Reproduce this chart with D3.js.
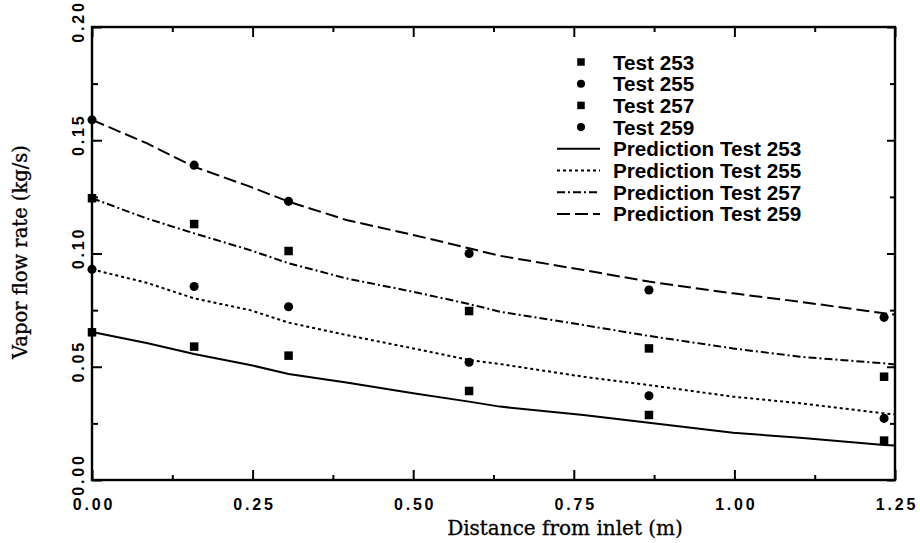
<!DOCTYPE html>
<html>
<head>
<meta charset="utf-8">
<script src="https://cdn.jsdelivr.net/npm/d3@7"></script>
<style>
  body { margin: 0; background: #fff; }
  .tick text { font-family: "Liberation Sans", Arial, sans-serif; font-weight: bold; font-size: 16px; letter-spacing: 2.8px; fill: #000; }
</style>
</head>
<body>
<div id="chart"></div>
<script>
const width = 920;
const height = 543;
const margin = { top: 27, right: 25, bottom: 63, left: 92 };
const innerW = width - margin.left - margin.right;
const innerH = height - margin.top - margin.bottom;

// measured points
const testX = [0, 0.159, 0.306, 0.587, 0.867, 1.233];
const test253 = [0.0652, 0.0589, 0.0549, 0.0393, 0.0287, 0.0174];
const test255 = [0.093, 0.0854, 0.0765, 0.052, 0.0372, 0.0272];
const test257 = [0.1244, 0.113, 0.1011, 0.0746, 0.0581, 0.0456];
const test259 = [0.159, 0.139, 0.123, 0.100, 0.0839, 0.0718];

// predictions
const predX = [0, 0.085, 0.159, 0.246, 0.306, 0.396, 0.5, 0.587, 0.635, 0.765, 0.867, 0.998, 1.102, 1.233, 1.25];
const pred253 = [0.0653, 0.0605, 0.0556, 0.0508, 0.0468, 0.043, 0.0383, 0.0346, 0.0324, 0.0287, 0.0253, 0.0209, 0.0186, 0.0155, 0.0152];
const pred255 = [0.093, 0.0871, 0.0802, 0.075, 0.0695, 0.064, 0.0581, 0.053, 0.0512, 0.0456, 0.0419, 0.0368, 0.0339, 0.0294, 0.029];
const pred257 = [0.1244, 0.1155, 0.1089, 0.1015, 0.0957, 0.089, 0.0831, 0.0777, 0.0743, 0.0684, 0.0636, 0.0581, 0.0544, 0.0515, 0.051];
const pred259 = [0.159, 0.1487, 0.1383, 0.1295, 0.1229, 0.1148, 0.1082, 0.1023, 0.099, 0.0927, 0.0876, 0.0824, 0.0787, 0.0736, 0.073];

const xMajor = [0, 0.25, 0.5, 0.75, 1.0, 1.25];
const xMinor = [0.125, 0.375, 0.625, 0.875, 1.125];
const yMajor = [0, 0.05, 0.10, 0.15, 0.20];
const yMinor = [0.025, 0.075, 0.125, 0.175];

const tests = [
    { name: "Test 253", values: test253, shape: "square" },
    { name: "Test 255", values: test255, shape: "circle" },
    { name: "Test 257", values: test257, shape: "square" },
    { name: "Test 259", values: test259, shape: "circle" }
];
const preds = [
    { name: "Prediction Test 253", values: pred253, dash: null },
    { name: "Prediction Test 255", values: pred255, dash: "3,3" },
    { name: "Prediction Test 257", values: pred257, dash: "8,3,2,3" },
    { name: "Prediction Test 259", values: pred259, dash: "13,5" }
];

const svg = d3.select("#chart")
    .append("svg")
    .attr("width", width)
    .attr("height", height);

const g = svg.append("g")
    .attr("transform", `translate(${margin.left}, ${margin.top})`);

const xScale = d3.scaleLinear().domain([0, 1.25]).range([0, innerW]);
const yScale = d3.scaleLinear().domain([0, 0.2]).range([innerH, 0]);

// axes, ticks pointing inward on all four sides
function addAxis(axis, transform, labels) {
    const a = g.append("g").attr("transform", transform).call(axis);
    a.select(".domain").remove();
    a.selectAll(".tick line").attr("stroke", "#000").attr("stroke-width", 2);
    if (!labels) a.selectAll(".tick text").remove();
    return a;
}

const xAx = addAxis(d3.axisBottom(xScale).tickValues(xMajor).tickSize(-10).tickPadding(19).tickFormat(d3.format(".2f")),
    `translate(0, ${innerH})`, true);
addAxis(d3.axisBottom(xScale).tickValues(xMinor).tickSize(-5), `translate(0, ${innerH})`, false);
addAxis(d3.axisTop(xScale).tickValues(xMajor).tickSize(-10), "translate(0, 0)", false);
addAxis(d3.axisTop(xScale).tickValues(xMinor).tickSize(-5), "translate(0, 0)", false);

// letter-spacing adds a trailing gap, nudge labels back to centre
xAx.selectAll(".tick text").attr("dx", "1.4px");

const yAx = addAxis(d3.axisLeft(yScale).tickValues(yMajor).tickSize(-10).tickFormat(d3.format(".2f")),
    "translate(0, 0)", true);
addAxis(d3.axisLeft(yScale).tickValues(yMinor).tickSize(-6), "translate(0, 0)", false);
addAxis(d3.axisRight(yScale).tickValues(yMajor).tickSize(-8), `translate(${innerW}, 0)`, false);
addAxis(d3.axisRight(yScale).tickValues(yMinor).tickSize(-5), `translate(${innerW}, 0)`, false);

// rotate y tick labels (sit a little above their ticks, as in the original)
yAx.selectAll(".tick text")
    .attr("x", null)
    .attr("dy", null)
    .attr("dx", "6px")
    .attr("text-anchor", "middle")
    .attr("transform", "translate(-8, 0) rotate(-90)");

// frame
g.append("rect")
    .attr("width", innerW)
    .attr("height", innerH)
    .attr("fill", "none")
    .attr("stroke", "#000")
    .attr("stroke-width", 2.4);

// prediction curves
const line = d3.line()
    .x((d, i) => xScale(predX[i]))
    .y(d => yScale(d));

g.selectAll(".pred")
    .data(preds)
    .enter()
    .append("path")
    .attr("class", "pred")
    .attr("d", d => line(d.values))
    .attr("fill", "none")
    .attr("stroke", "#000")
    .attr("stroke-width", 2)
    .attr("stroke-dasharray", d => d.dash);

// test points
function drawMarker(sel, shape, size) {
    if (shape === "square") {
        sel.append("rect")
            .attr("x", -size / 2)
            .attr("y", -size / 2)
            .attr("width", size)
            .attr("height", size)
            .attr("fill", "#000");
    } else {
        sel.append("circle")
            .attr("r", size / 2 + 0.3)
            .attr("fill", "#000");
    }
}

tests.forEach(t => {
    t.values.forEach((v, i) => {
        const m = g.append("g")
            .attr("transform", `translate(${xScale(testX[i])}, ${yScale(v)})`);
        drawMarker(m, t.shape, 8.5);
    });
});

// legend
const legendFont = "Liberation Sans, Arial, sans-serif";
const legend = svg.append("g");
const rowY = i => 62 + i * 21.7;

tests.forEach((t, i) => {
    const m = legend.append("g").attr("transform", `translate(581, ${rowY(i)})`);
    drawMarker(m, t.shape, 7.5);
});
preds.forEach((p, i) => {
    legend.append("line")
        .attr("x1", 557)
        .attr("x2", 600)
        .attr("y1", rowY(i + 4))
        .attr("y2", rowY(i + 4))
        .attr("stroke", "#000")
        .attr("stroke-width", 2)
        .attr("stroke-dasharray", p.dash);
});

legend.selectAll(".legtext")
    .data(tests.map(d => d.name).concat(preds.map(d => d.name)))
    .enter()
    .append("text")
    .attr("x", 613)
    .attr("y", (d, i) => rowY(i) + 7.5)
    .style("font-family", legendFont)
    .style("font-weight", "bold")
    .style("font-size", "20.7px")
    .text(d => d);

// axis titles
svg.append("text")
    .attr("x", 565)
    .attr("y", 535)
    .attr("text-anchor", "middle")
    .style("font-family", "DejaVu Serif, serif")
    .style("font-size", "20px")
    .style("stroke", "#000")
    .style("stroke-width", 0.3)
    .text("Distance from inlet (m)");

svg.append("text")
    .attr("transform", "translate(27, 252) rotate(-90)")
    .attr("text-anchor", "middle")
    .style("font-family", "DejaVu Serif, serif")
    .style("font-size", "19.5px")
    .style("stroke", "#000")
    .style("stroke-width", 0.3)
    .text("Vapor flow rate (kg/s)");
</script>
</body>
</html>
